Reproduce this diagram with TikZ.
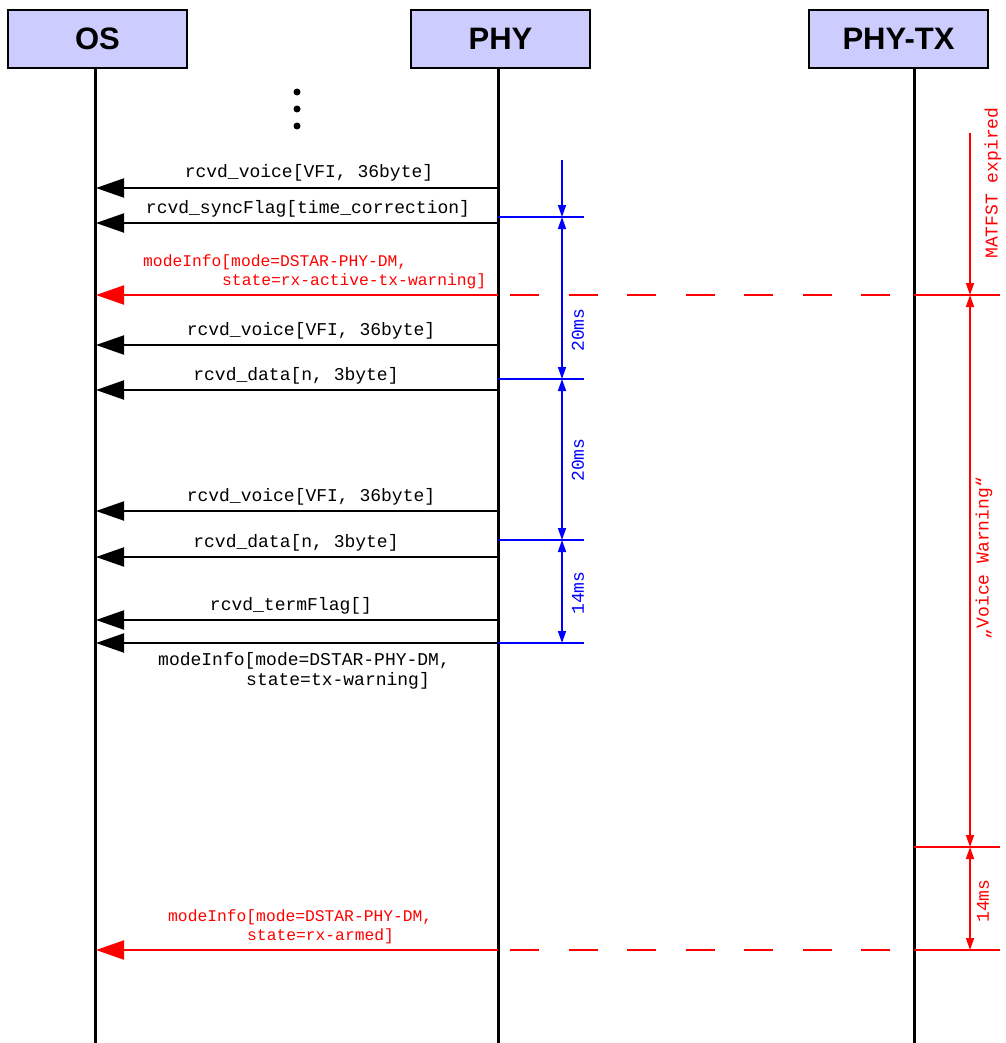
\documentclass[tikz,border=0pt]{standalone}
\usepackage{fontspec}
\setmainfont{Liberation Sans}
\newfontfamily\monof{Liberation Mono}
\usetikzlibrary{arrows.meta}
\definecolor{boxfill}{HTML}{CCCCFF}
\definecolor{dimblue}{HTML}{0000FF}
\definecolor{dimred}{HTML}{FF0000}
\tikzset{
 msgtip/.tip={Triangle[length=28pt,width=19pt]},
 dtip/.tip={Triangle[length=12pt,width=8pt]}
}
\begin{document}
\begin{tikzpicture}[x=1pt,y=-1pt,
 lifebox/.style={draw=black, line width=2.5pt, fill=boxfill, minimum width=179pt, minimum height=58pt, inner sep=0pt, font=\fontsize{31}{31}\selectfont\bfseries},
 lifeline/.style={line width=3pt},
 msg/.style={line width=2pt, -msgtip},
 redmsg/.style={msg, draw=dimred, fill=dimred},
 lbl/.style={font=\monof\fontsize{18}{18}\selectfont, inner sep=0pt, anchor=base},
 lblw/.style={font=\monof\fontsize{18}{18}\selectfont, inner sep=0pt, anchor=base west},
 rlbl/.style={font=\monof\fontsize{16.3}{16}\selectfont, inner sep=0pt, text=dimred, anchor=base west},
 rotlbl/.style={font=\monof\fontsize{18}{18}\selectfont, inner sep=0pt, rotate=90},
 bdim/.style={draw=dimblue, line width=1.6pt},
 rdim/.style={draw=dimred, line width=1.6pt},
 rdash/.style={draw=dimred, line width=1.6pt, dash pattern=on 29pt off 29.5pt},
 dot/.style={circle, fill=black, inner sep=0pt, minimum size=7pt}
]
\useasboundingbox (0,0) rectangle (1005,1043);

% header boxes
\node[lifebox] (os) at (97.5,39) {OS};
\node[lifebox] (phy) at (500.5,39) {PHY};
\node[lifebox] (phytx) at (898.5,39) {PHY-TX};

% lifelines
\coordinate (osT) at (95,68);  \coordinate (osB) at (95,1043);
\coordinate (phT) at (498,68); \coordinate (phB) at (498,1043);
\coordinate (txT) at (914,68); \coordinate (txB) at (914,1043);
\draw[lifeline] (osT) -- (osB);
\draw[lifeline] (phT) -- (phB);
\draw[lifeline] (txT) -- (txB);

% continuation dots
\node[dot] (d1) at (297,92) {};
\node[dot] (d2) at (297,109) {};
\node[dot] (d3) at (297,126) {};

% message end points
\foreach \n/\y in {1/188,2/223,3/295,4/345,5/390,6/511,7/557,8/620,9/643,10/950}{
  \coordinate (p\n) at (498,\y);
  \coordinate (o\n) at (96,\y);
}

% messages
\draw[msg] (p1) -- (o1);
\node[lbl] (l1) at (309,178) {rcvd\_voice[VFI, 36byte]};
\draw[msg] (p2) -- (o2);
\node[lbl] (l2) at (308,213) {rcvd\_syncFlag[time\_correction]};
\draw[redmsg] (p3) -- (o3);
\node[rlbl] (l3a) at (143,266) {modeInfo[mode=DSTAR-PHY-DM,};
\node[rlbl] (l3b) at (222,285) {state=rx-active-tx-warning]};
\draw[msg] (p4) -- (o4);
\node[lbl] (l4) at (311,335) {rcvd\_voice[VFI, 36byte]};
\draw[msg] (p5) -- (o5);
\node[lbl] (l5) at (296,380) {rcvd\_data[n, 3byte]};
\draw[msg] (p6) -- (o6);
\node[lbl] (l6) at (311,501) {rcvd\_voice[VFI, 36byte]};
\draw[msg] (p7) -- (o7);
\node[lbl] (l7) at (296,547) {rcvd\_data[n, 3byte]};
\draw[msg] (p8) -- (o8);
\node[lbl] (l8) at (291,610) {rcvd\_termFlag[]};
\draw[msg] (p9) -- (o9);
\node[lblw] (l9a) at (158,665) {modeInfo[mode=DSTAR-PHY-DM,};
\node[lblw] (l9b) at (246,685) {state=tx-warning]};
\draw[redmsg] (p10) -- (o10);
\node[rlbl] (l10a) at (168,921) {modeInfo[mode=DSTAR-PHY-DM,};
\node[rlbl] (l10b) at (247,940) {state=rx-armed]};

% blue dimensions
\coordinate (bT) at (562,160);
\foreach \n/\y in {1/217,2/379,3/540,4/643}{
  \coordinate (bl\n) at (498,\y);
  \coordinate (br\n) at (584,\y);
  \coordinate (bm\n) at (562,\y);
  \draw[bdim] (bl\n) -- (br\n);
}
\draw[bdim, -dtip] (bT) -- (bm1);
\draw[bdim, dtip-dtip] (bm1) -- (bm2);
\draw[bdim, dtip-dtip] (bm2) -- (bm3);
\draw[bdim, dtip-dtip] (bm3) -- (bm4);
\node[rotlbl, text=dimblue] (b20a) at (578,330) {20ms};
\node[rotlbl, text=dimblue] (b20b) at (578,460) {20ms};
\node[rotlbl, text=dimblue] (b14) at (578,593) {14ms};

% red dimensions
\coordinate (rT) at (970,133);
\foreach \n/\y in {1/295,2/847,3/950}{
  \coordinate (rl\n) at (914,\y);
  \coordinate (rr\n) at (1000,\y);
  \coordinate (rm\n) at (970,\y);
  \draw[rdim] (rl\n) -- (rr\n);
}
\coordinate (ds1) at (510,295); \coordinate (de1) at (914,295);
\coordinate (ds2) at (510,950); \coordinate (de2) at (914,950);
\draw[rdash] (ds1) -- (de1);
\draw[rdash] (ds2) -- (de2);
\draw[rdim, -dtip] (rT) -- (rm1);
\draw[rdim, dtip-dtip] (rm1) -- (rm2);
\draw[rdim, dtip-dtip] (rm2) -- (rm3);
\node[rotlbl, text=dimred] (rmat) at (993,183) {MATFST expired};
\node[rotlbl, text=dimred] (rvw) at (984,558) {„Voice Warning“};
\node[rotlbl, text=dimred] (r14) at (983,901) {14ms};
\end{tikzpicture}
\end{document}
